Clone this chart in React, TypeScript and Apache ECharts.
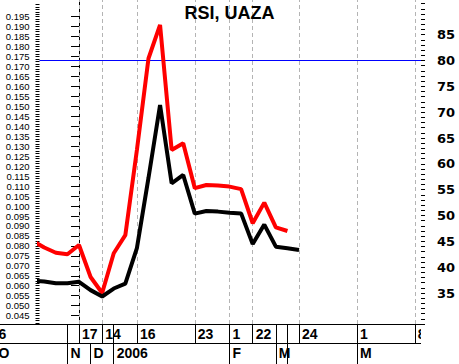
import React, { useEffect, useRef } from "react";
import * as echarts from "echarts";

// session index (trading sessions), price (left axis) and RSI (right axis)
const sessions = [-4, -3, -2, -1, 0, 1, 2, 3, 4, 5, 6, 7, 8, 9, 10, 11, 12, 13, 14, 15, 16, 17, 18, 19];
const price = [0.0626, 0.0621, 0.0612, 0.0612, 0.062, 0.0578, 0.0546, 0.0586, 0.0611, 0.0789, 0.1141, 0.1507, 0.1114, 0.1156, 0.0962, 0.0975, 0.0972, 0.0966, 0.0963, 0.0809, 0.0907, 0.0796, 0.0788, 0.0779];
const rsi = [45.1, 43.8, 42.8, 42.5, 44.3, 38.1, 35.0, 42.7, 46.2, 62.7, 80.4, 86.9, 62.7, 64.0, 55.3, 55.9, 55.8, 55.6, 55.1, 48.5, 52.5, 47.7, 47.0];
const rsiLevel = 80;

const priceTickLabels = [0.045, 0.05, 0.055, 0.06, 0.065, 0.07, 0.075, 0.08, 0.085, 0.09, 0.095, 0.1, 0.105, 0.11, 0.115, 0.12, 0.125, 0.13, 0.135, 0.14, 0.145, 0.15, 0.155, 0.16, 0.165, 0.17, 0.175, 0.18, 0.185, 0.19, 0.195];
const rsiTickLabels = [35, 40, 45, 50, 55, 60, 65, 70, 75, 80, 85];

const dayLabelPos = [-7.2, 0, 2, 5, 10, 13, 15, 19, 24, 29];
const dayLabelText = ["6", "17", "14", "16", "23", "1", "22", "24", "1", "8"];
const dayBreaks = [-7.2, -1, 0, 2, 3, 5, 10, 13, 15, 17, 18, 19, 24, 29];
const monthLabelPos = [-7.2, -1, 1, 3, 13, 17, 24];
const monthLabelText = ["O", "N", "D", "2006", "F", "M", "M"];
const monthBreaks = [-7.2, -1, 1, 3, 13, 17, 18, 24];
const gridSessions = [0, 2, 5, 10, 13, 15, 19, 24, 29];

const title = "RSI, UAZA";

// layout (the chart canvas starts SHIFT px left of the page so that the
// date table can run past the page's left edge, as in the reference)
const SHIFT = 20;
const W = 459 + SHIFT;
const H = 364;
const X0 = 79 + SHIFT;
const PX = 11.58;
const plotLeft = 39.5 + SHIFT;
const plotRight = 421 + SHIFT;
const kMin = (plotLeft - X0) / PX;
const kMax = (plotRight - X0) / PX;
const tableMin = (0 - X0) / PX;

function lookup(pos: number[], text: string[], v: number) {
  for (let i = 0; i < pos.length; i++) if (Math.abs(pos[i] - v) < 1e-6) return text[i];
  return "";
}

export default function App() {
  const ref = useRef<HTMLDivElement>(null);
  useEffect(() => {
    if (!ref.current) return;
    const chart = echarts.init(ref.current, null, { renderer: "svg" });
    const minorPrice: number[] = [];
    for (let i = 1; i <= 129; i++) minorPrice.push(0.04 + i * 0.00125);
    const rsiTicks: number[] = [];
    for (let i = 29; i <= 91; i++) rsiTicks.push(i);
    const tableFont = { fontFamily: "Liberation Sans, Arial, sans-serif", fontWeight: "bold" as const, fontSize: 14, color: "#000" };
    chart.setOption({
      animation: false,
      backgroundColor: "#fff",
      title: {
        text: title,
        left: 229.5 + SHIFT,
        textAlign: "center",
        top: 4,
        padding: 0,
        textStyle: { fontFamily: "Liberation Sans, Arial, sans-serif", fontWeight: "bold", fontSize: 18, color: "#000", lineHeight: 18 },
      },
      grid: [
        { left: plotLeft, right: W - plotRight, top: 0, bottom: 40, containLabel: false },
        { left: 0, right: W - plotRight, top: 0, bottom: 40, containLabel: false },
      ],
      xAxis: [
        {
          type: "value", gridIndex: 0, min: kMin, max: kMax,
          axisLine: { show: false }, axisLabel: { show: false },
          axisTick: { show: false },
          splitLine: { show: false },
        },
        {
          type: "value", gridIndex: 1, min: tableMin, max: kMax, position: "bottom", offset: 0,
          axisLine: { show: true, lineStyle: { color: "#000", width: 1 } },
          axisTick: { show: true, customValues: dayBreaks, length: 19, inside: false, lineStyle: { color: "#000", width: 1 } },
          axisLabel: { customValues: dayLabelPos, formatter: (v: number) => lookup(dayLabelPos, dayLabelText, v), align: "left", padding: [0, 0, 0, 3], margin: 3, ...tableFont },
          splitLine: { show: false },
        },
        {
          type: "value", gridIndex: 1, min: tableMin, max: kMax, position: "bottom", offset: 19,
          axisLine: { show: true, lineStyle: { color: "#000", width: 1 } },
          axisTick: { show: true, customValues: monthBreaks, length: 21, inside: false, lineStyle: { color: "#000", width: 1 } },
          axisLabel: { customValues: monthLabelPos, formatter: (v: number) => lookup(monthLabelPos, monthLabelText, v), align: "left", padding: [0, 0, 0, 3], margin: 3, ...tableFont },
          splitLine: { show: false },
        },
      ],
      yAxis: [
        {
          type: "value", gridIndex: 0, position: "left", min: 0.0408, max: 0.2034,
          axisLine: { show: true, lineStyle: { color: "#000", width: 1 } },
          axisTick: { show: true, customValues: priceTickLabels, length: 8, lineStyle: { color: "#000" } },
          axisLabel: { customValues: priceTickLabels, formatter: (v: number) => v.toFixed(3), margin: 10, fontFamily: "Liberation Sans, Arial, sans-serif", fontSize: 9.5, color: "#000" },
          splitLine: { show: false },
        },
        {
          type: "value", gridIndex: 0, position: "left", min: 0.0408, max: 0.2034,
          axisLine: { show: false },
          axisTick: { show: true, customValues: minorPrice, length: 4, lineStyle: { color: "#000" } },
          axisLabel: { show: false },
          splitLine: { show: false },
        },
        {
          type: "value", gridIndex: 0, position: "right", min: 29, max: 91.72,
          axisLine: { show: false },
          axisTick: { show: true, customValues: rsiTicks, length: 4, lineStyle: { color: "#000" } },
          axisLabel: { customValues: rsiTickLabels, margin: 16, fontFamily: "DejaVu Sans, sans-serif", fontWeight: "bold", fontSize: 13, color: "#000" },
          splitLine: { show: false },
        },
        { type: "value", gridIndex: 1, show: false, min: 0, max: 1 },
      ],
      series: [
        {
          name: "RSI", type: "line", xAxisIndex: 0, yAxisIndex: 2,
          data: rsi.map((v, i) => [sessions[i], v]),
          symbol: "none", lineStyle: { color: "#ff0000", width: 4 }, itemStyle: { color: "#ff0000" },
          z: 3,
          markLine: {
            silent: true, symbol: "none", label: { show: false },
            lineStyle: { color: "#0000ff", width: 1, type: "solid" },
            data: [{ yAxis: rsiLevel }],
            z: 1,
          },
        },
        {
          name: "Price", type: "line", xAxisIndex: 0, yAxisIndex: 0,
          data: price.map((v, i) => [sessions[i], v]),
          symbol: "none", lineStyle: { color: "#000000", width: 4 }, itemStyle: { color: "#000" },
          z: 4,
          markLine: {
            silent: true, symbol: "none", label: { show: false },
            lineStyle: { color: "#b4b4b4", width: 1, type: [4, 3] },
            data: gridSessions.map((k) => ({ xAxis: k })),
            z: 1,
          },
        },
      ],
      graphic: [
        { type: "rect", shape: { x: plotRight, y: 325, width: 40, height: 40 }, style: { fill: "#fff" }, z: 100, silent: true },
      ],
    });
    return () => chart.dispose();
  }, []);
  return <div ref={ref} style={{ position: "fixed", left: -SHIFT, top: 0, width: W, height: H }} />;
}
